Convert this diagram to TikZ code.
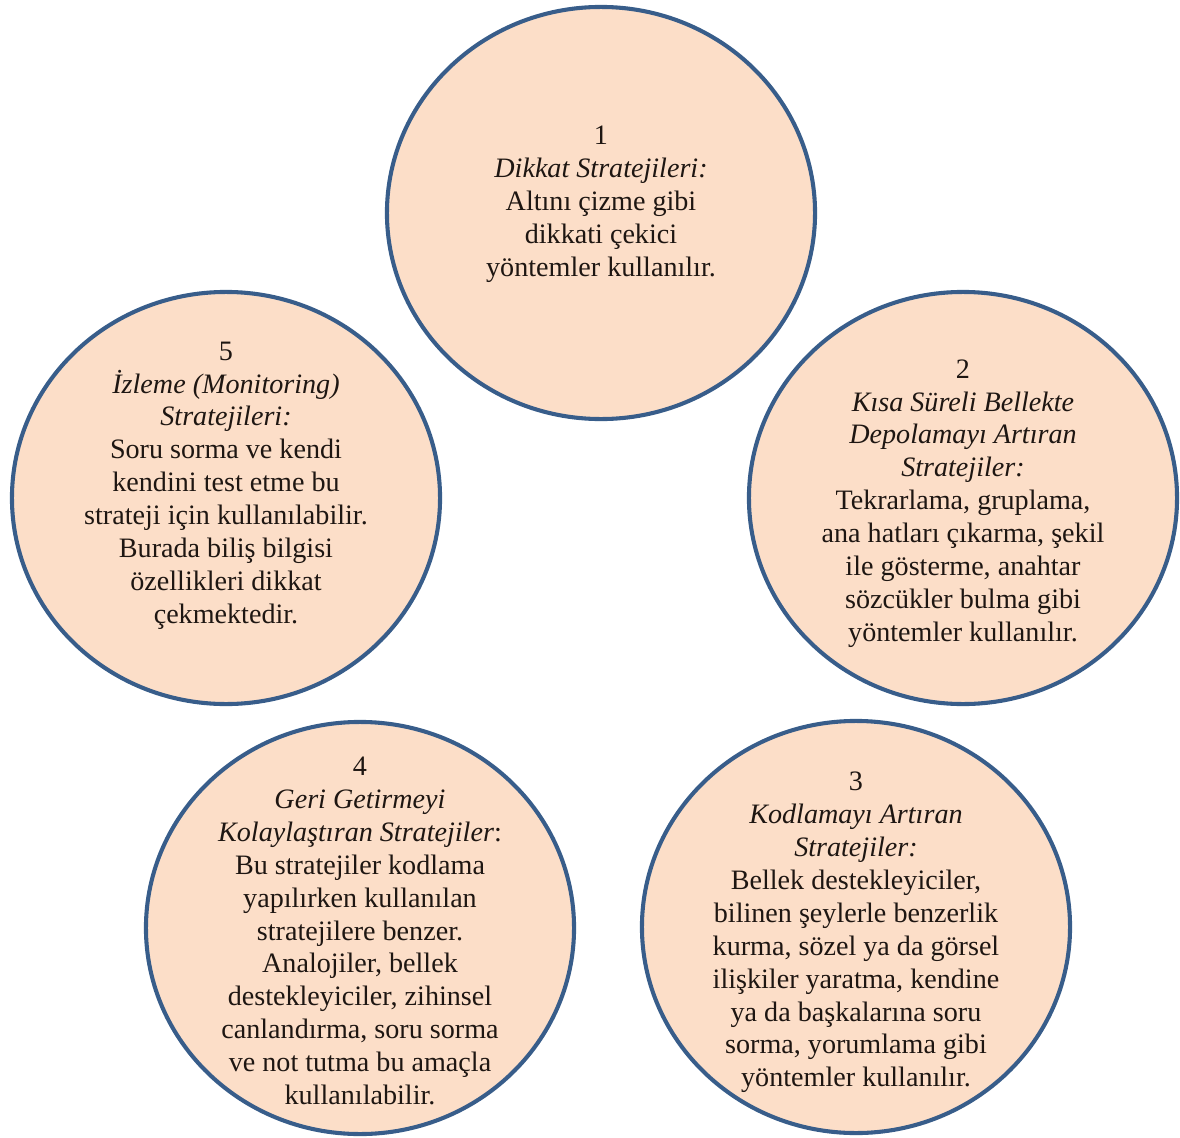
\documentclass[tikz,border=0pt]{standalone}
\usepackage{fontspec}
\setmainfont{Liberation Serif}
\usetikzlibrary{shapes.geometric}
\definecolor{peach}{RGB}{252,222,200}
\definecolor{rimblue}{RGB}{56,93,138}
\definecolor{inkdark}{RGB}{30,22,18}
\begin{document}
\begin{tikzpicture}[x=0.025cm, y=-0.025cm,
  disc/.style={ellipse, draw=rimblue, fill=peach, line width=2.9pt, minimum width=10.7cm, minimum height=10.3cm, inner sep=0pt},
  txt/.style={align=center, text=inkdark, font=\fontsize{20}{23.4}\selectfont}]
\useasboundingbox (0,0) rectangle (1180,1138);
% circles
\node[disc] (c1) at (601,213) {};
\node[disc] (c2) at (963,498) {};
\node[disc] (c3) at (856,927) {};
\node[disc] (c4) at (360,928) {};
\node[disc] (c5) at (226,498) {};
% texts
\node[txt] (t1) at (601,204) {1\\\textit{Dikkat Stratejileri:}\\Altını çizme gibi\\dikkati çekici\\yöntemler kullanılır.};
\node[txt] (t2) at (963,503.5) {2\\\textit{Kısa Süreli Bellekte}\\\textit{Depolamayı Artıran}\\\textit{Stratejiler:}\\Tekrarlama, gruplama,\\ana hatları çıkarma, şekil\\ile gösterme, anahtar\\sözcükler bulma gibi\\yöntemler kullanılır.};
\node[txt] (t3) at (856,932.5) {3\\\textit{Kodlamayı Artıran}\\\textit{Stratejiler:}\\Bellek destekleyiciler,\\bilinen şeylerle benzerlik\\kurma, sözel ya da görsel\\ilişkiler yaratma, kendine\\ya da başkalarına soru\\sorma, yorumlama gibi\\yöntemler kullanılır.};
\node[txt] (t4) at (360,931) {4\\\textit{Geri Getirmeyi}\\\textit{Kolaylaştıran Stratejiler}:\\Bu stratejiler kodlama\\yapılırken kullanılan\\stratejilere benzer.\\Analojiler, bellek\\destekleyiciler, zihinsel\\canlandırma, soru sorma\\ve not tutma bu amaçla\\kullanılabilir.};
\node[txt] (t5) at (226,485.5) {5\\\textit{İzleme (Monitoring)}\\\textit{Stratejileri:}\\Soru sorma ve kendi\\kendini test etme bu\\strateji için kullanılabilir.\\Burada biliş bilgisi\\özellikleri dikkat\\çekmektedir.};
\end{tikzpicture}
\end{document}
